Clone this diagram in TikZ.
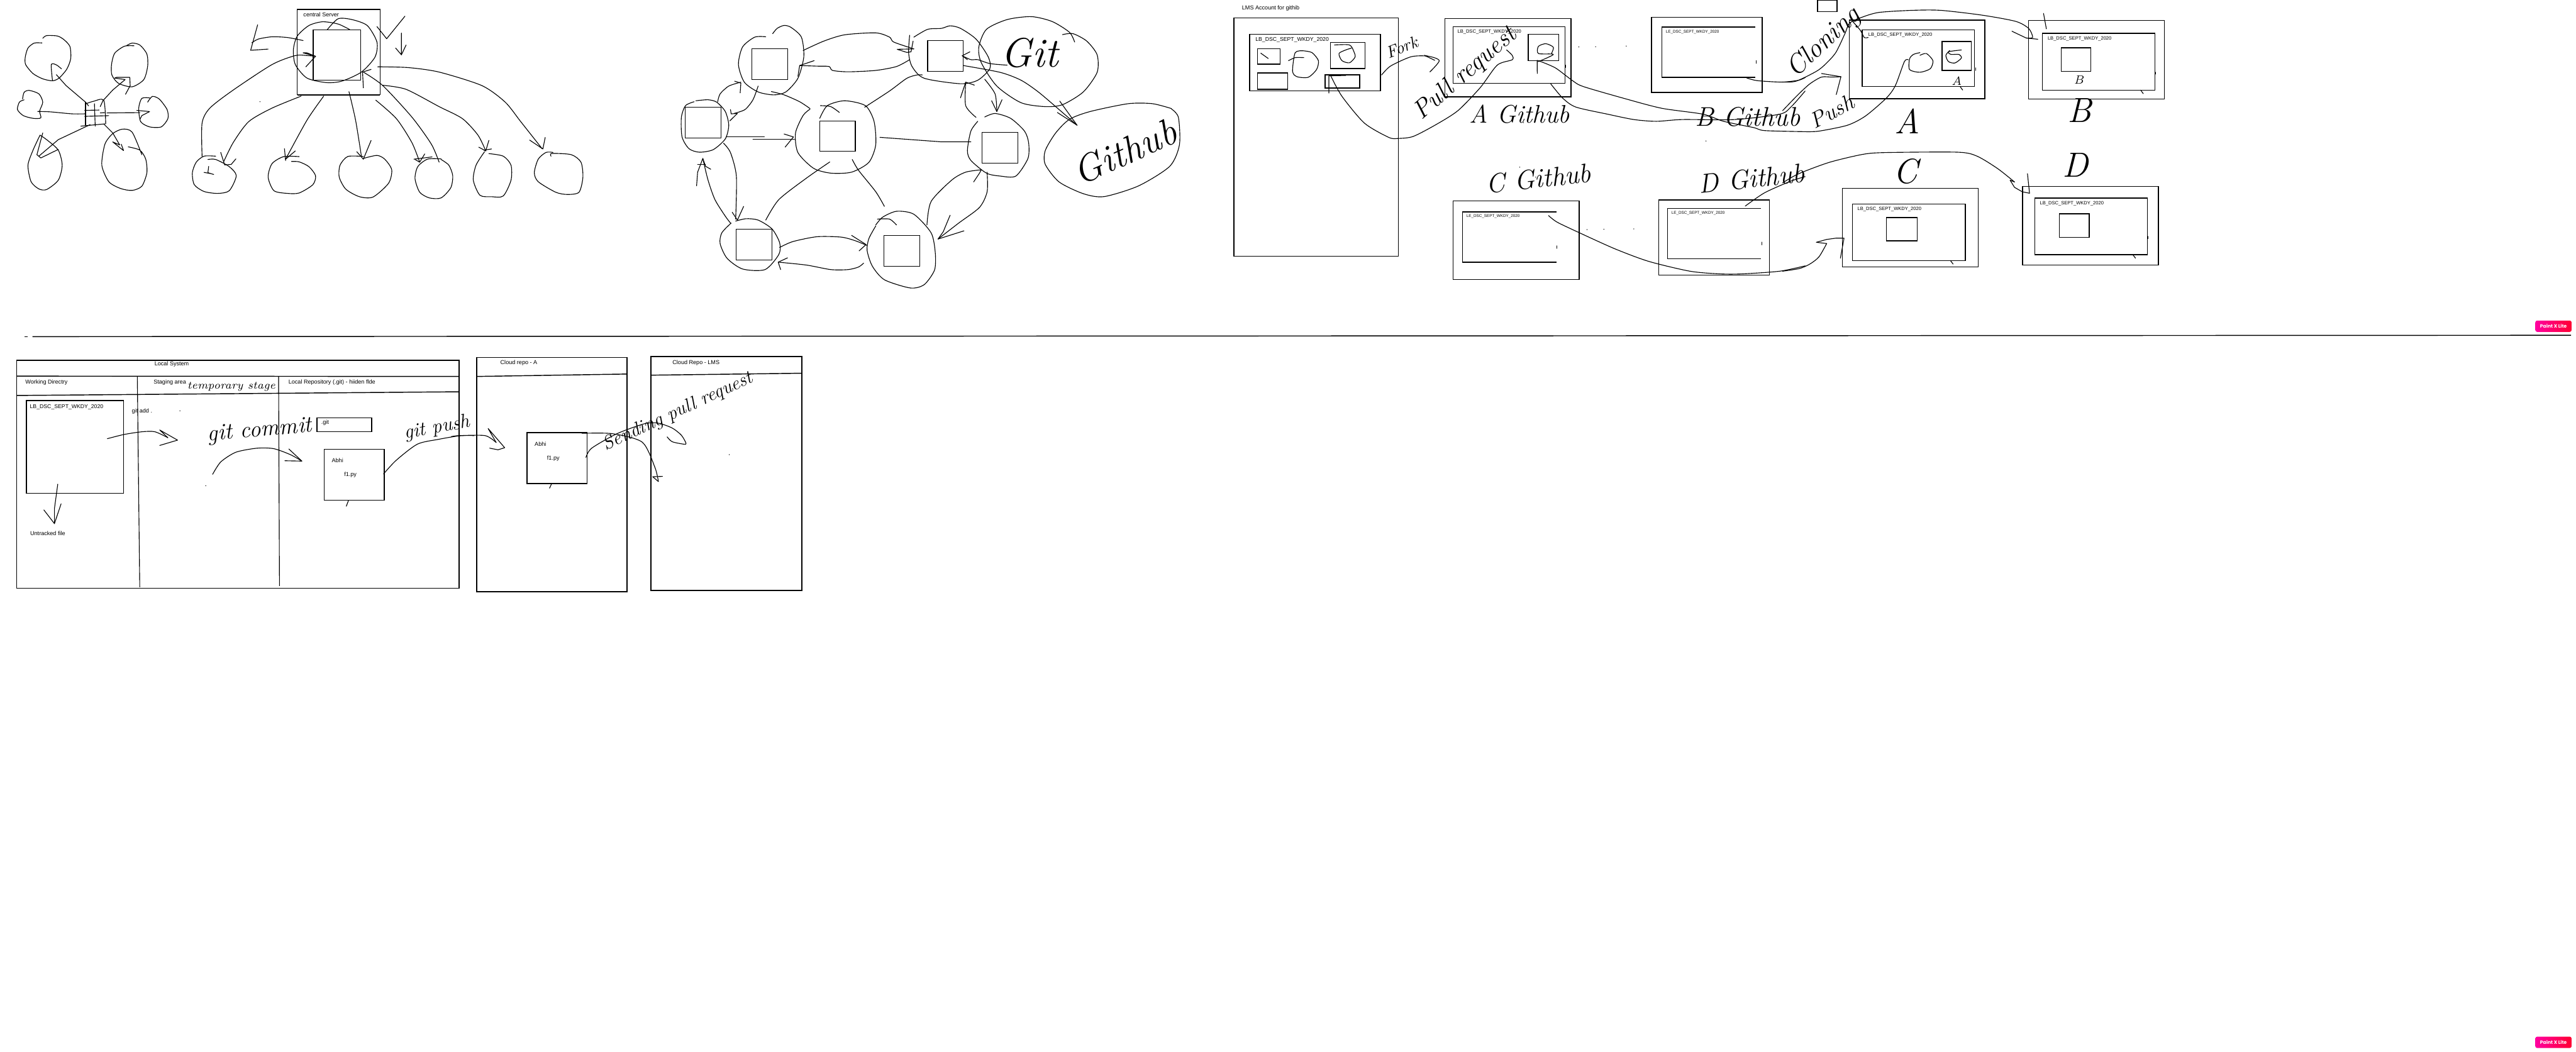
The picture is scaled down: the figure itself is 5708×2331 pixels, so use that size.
\documentclass[tikz,border=0pt]{standalone}
\usepackage{fontspec}
\setmainfont{Liberation Sans}
\newfontfamily\handfont{Latin Modern Roman}
\newfontfamily\badgefont{Poppins}
\definecolor{badgeL}{RGB}{255,0,160}
\definecolor{badgeR}{RGB}{255,0,50}
\newcommand{\hw}[1]{\fontsize{#1}{#1}\selectfont\handfont\itshape}
\newcommand{\ink}[1]{\draw[inkline] plot[smooth,tension=0.45] coordinates {#1};}
\newcommand{\pen}[1]{\draw[inkline] plot coordinates {#1};}
\newcommand{\speck}[1]{\fill #1 circle[radius=0.3pt];}
\tikzset{
  inkline/.style={line width=0.45pt,line join=round,line cap=round,black},
  boxline/.style={line width=0.57pt,black},
  thinbox/.style={line width=0.45pt,black},
  lbl/.style={font=\fontsize{3.6}{4.3}\selectfont,inner sep=0,anchor=west,text=black},
  lblb/.style={font=\fontsize{3.45}{4.1}\selectfont,inner sep=0,anchor=west,text=black},
  lblc/.style={font=\fontsize{3.0}{3.6}\selectfont,inner sep=0,anchor=west,text=black},
  lbld/.style={font=\fontsize{2.5}{3}\selectfont,inner sep=0,anchor=west,text=black},
  hand/.style={inner sep=0,text=black},
  badge/.style={rounded corners=1.1pt,left color=badgeL,right color=badgeR,minimum width=22.8pt,minimum height=7.1pt,inner sep=0,text=white,font=\fontsize{3}{3.6}\selectfont\badgefont\bfseries},
  zone a/.style={shift={(0,0)},x=0.00861cm,y=-0.003333cm},
  zone b/.style={shift={(1450,0)},x=0.007653cm,y=-0.004337cm},
  zone c/.style={shift={(2700,0)},x=0.008291cm,y=-0.003954cm},
  zone d/.style={shift={(3950,0)},x=0.00574cm,y=-0.003954cm},
  zone e/.style={shift={(0,770)},x=0.006696cm,y=-0.003571cm},
  zone f/.style={shift={(1000,770)},x=0.005102cm,y=-0.003571cm},
}
\begin{document}
\begin{tikzpicture}[x=0.01cm,y=-0.01cm]
\useasboundingbox (0,0) rectangle (5708,2331);
\fill[white] (0,0) rectangle (5708,2331);

% ---------- separator and badges
\coordinate (sepmarkL) at (55,746);
\coordinate (sepmarkR) at (62,746);
\coordinate (sepL) at (72,746);
\coordinate (sepR) at (5697,743);
\draw[boxline] (sepmarkL) -- (sepmarkR);
\draw[boxline] (sepL) -- (sepR);
\node[badge] (badgeTop) at (5658,723) {Paint X Lite};
\node[badge] (badgeBottom) at (5658,2310) {Paint X Lite};

% ---------- zone A: star and central server
\begin{scope}[zone a]
\ink{(108,286)(88,287)(72,320)(65,380)(66,430)(85,490)(110,525)(135,538)(152,520)(172,460)(182,390)(180,310)(165,265)(148,240)(120,237)(110,255)}
\ink{(135,535)(132,430)(145,432)(158,458)}
\pen{(145,497)(170,570)(220,680)(228,705)}
\ink{(345,305)(320,308)(295,355)(287,430)(288,500)(305,555)(340,578)(370,530)(380,440)(378,360)(360,300)(340,287)(325,305)}
\pen{(323,628)(335,570)(334,515)(300,515)(295,520)(322,530)(290,600)(265,670)(258,710)}
\pen{(220,680)(220,835)}
\ink{(222,690)(240,675)(267,668)(272,825)}
\pen{(218,735)(255,733)}
\pen{(218,775)(280,770)}
\pen{(258,752)(270,750)}
\pen{(208,840)(270,825)}
\pen{(243,690)(245,840)}
\ink{(62,665)(50,680)(45,730)(60,770)(85,788)(105,785)(102,740)(110,680)(100,625)(75,602)(62,615)(58,660)}
\ink{(97,742)(130,745)(185,758)(220,758)}
\ink{(385,652)(365,655)(357,720)(362,810)(385,845)(415,845)(432,790)(430,730)(410,660)(392,642)(380,680)}
\pen{(275,752)(360,750)}
\pen{(352,735)(385,743)(365,770)(360,795)}
\ink{(103,900)(85,1000)(72,1100)(80,1210)(100,1258)(120,1262)(150,1200)(160,1100)(150,1000)(120,930)(103,900)}
\pen{(232,830)(150,930)(100,1040)}
\pen{(110,885)(95,1030)(105,1052)(150,995)}
\ink{(330,978)(360,1000)(375,1060)(378,1150)(365,1240)(340,1268)(310,1255)(280,1210)(262,1100)(270,960)(290,890)(315,860)(340,880)(365,1030)}
\pen{(268,828)(290,885)(308,965)(290,945)(318,1003)(312,960)}

\draw[thinbox] (765,62) rectangle (978,632);
\draw[boxline] (765,62) -- (978,62) (765,632) -- (978,632);
\draw[thinbox] (806,200) rectangle (928,534);
\draw[boxline] (806,200) -- (928,200) (806,534) -- (928,534);
\node[lbl] (centralLabel) at (780,96) {central Server};
\ink{(900,197)(870,160)(830,145)(795,170)(765,240)(755,330)(760,430)(790,520)(840,550)(880,540)(930,480)(965,380)(970,280)(945,170)(905,130)(870,125)(842,198)}
\ink{(780,270)(740,250)(700,245)(665,260)(648,285)}
\pen{(663,165)(645,335)(690,327)}
\pen{(970,177)(995,258)(1042,108)}
\pen{(1033,220)(1033,365)(1018,320)}
\pen{(1033,365)(1045,300)}
\ink{(520,1040)(520,820)(540,720)(600,600)(700,430)(760,370)(790,370)(812,375)}
\pen{(812,375)(790,352)(780,352)(812,375)(787,445)}
\ink{(775,640)(700,720)(640,810)(600,950)(575,1080)}
\pen{(568,1015)(578,1098)(595,1095)(607,1058)}
\ink{(833,640)(790,800)(735,1060)}
\pen{(732,990)(735,1070)}
\pen{(760,1005)(735,1060)}
\ink{(898,610)(915,800)(930,1040)}
\pen{(955,935)(935,1060)}
\pen{(918,1010)(935,1060)}
\ink{(967,667)(1020,790)(1060,950)(1080,1080)}
\pen{(1093,1025)(1080,1080)(1068,1062)}
\ink{(935,480)(985,570)(1060,780)(1110,960)(1130,1080)}
\pen{(935,585)(933,480)(955,462)}
\ink{(985,568)(1045,595)(1130,710)(1190,790)(1230,900)(1250,1005)}
\pen{(1258,935)(1250,1005)(1232,980)}
\pen{(1245,1000)(1265,992)}
\ink{(972,445)(1050,450)(1130,480)(1240,570)(1300,680)(1340,810)(1395,990)}
\pen{(1403,915)(1397,992)(1363,933)}
\ink{(555,1040)(525,1040)(505,1080)(495,1150)(500,1230)(525,1275)(560,1288)(590,1270)(608,1170)(590,1110)(555,1062)(535,1062)}
\pen{(537,1108)(535,1150)(550,1162)}
\pen{(525,1148)(540,1155)}
\ink{(770,1043)(730,1043)(700,1090)(690,1180)(705,1270)(740,1288)(770,1285)(805,1230)(812,1170)(795,1110)(770,1078)(750,1075)}
\ink{(935,1042)(895,1042)(875,1100)(873,1180)(890,1260)(925,1310)(960,1312)(1000,1220)(1008,1130)(990,1060)(970,1035)(935,1055)}
\pen{(1112,1045)(1065,1060)}
\ink{(1135,1058)(1100,1060)(1075,1110)(1068,1190)(1080,1280)(1105,1318)(1135,1318)(1160,1250)(1165,1170)(1155,1100)(1135,1062)}
\ink{(1247,1010)(1225,1100)(1218,1200)(1235,1300)(1265,1310)(1295,1305)(1315,1200)(1315,1100)(1295,1040)(1258,1023)}
\ink{(1423,1015)(1405,1015)(1385,1060)(1375,1150)(1385,1210)(1430,1280)(1460,1295)(1490,1280)(1500,1180)(1495,1080)(1470,1030)(1420,1022)(1418,1040)}
\speck{(669,677)}
\end{scope}

% ---------- zone B: distributed peers
\begin{scope}[zone b]
\foreach \a/\b/\c/\d in {282/250/385/407,89/549/192/706,478/618/581/774,790/208/892/365,947/677/1051/833,237/1172/340/1330,664/1204/768/1362}{
  \draw[thinbox] (\a,\b) rectangle (\c,\d);
}
\ink{(322,188)(290,190)(255,240)(243,330)(260,420)(300,470)(345,485)(380,470)(415,400)(432,290)(425,190)(395,140)(375,130)(355,145)(342,172)}
\ink{(120,515)(155,510)(180,522)(205,570)(215,640)(205,710)(170,765)(130,778)(100,760)(80,700)(78,600)(90,540)(115,520)}
\ink{(450,558)(430,590)(408,680)(415,780)(460,860)(510,885)(570,880)(620,830)(640,740)(635,620)(610,540)(550,515)(500,540)(478,605)}
\ink{(535,575)(510,545)(480,540)}
\ink{(738,180)(735,270)(745,340)(780,400)(885,428)(935,410)(970,350)(965,290)(930,200)(885,145)(855,132)(830,145)(790,150)(750,190)}
\ink{(955,598)(985,580)(1030,605)(1070,670)(1082,730)(1080,810)(1045,900)(1000,900)(960,885)(915,820)(905,770)(915,670)(935,620)}
\ink{(222,1140)(195,1190)(190,1245)(210,1320)(255,1375)(320,1378)(360,1300)(362,1240)(340,1170)(300,1125)(265,1118)(235,1130)}
\ink{(640,1155)(620,1220)(615,1280)(630,1360)(665,1430)(740,1472)(780,1455)(810,1380)(812,1290)(800,1190)(750,1095)(700,1080)(660,1110)(640,1150)}
\ink{(645,1120)(680,1120)(700,1150)}
\ink{(1180,177)(1210,172)(1250,210)(1280,280)(1280,370)(1240,470)(1180,535)(1130,545)(1060,525)(990,440)(945,320)(938,240)(960,150)(1020,100)(1090,85)(1150,110)(1200,165)(1215,215)}
\ink{(1495,557)(1515,600)(1518,740)(1490,850)(1400,950)(1300,1005)(1240,990)(1170,930)(1130,840)(1130,770)(1160,680)(1200,610)(1260,570)(1370,530)(1440,530)(1495,555)}
\ink{(430,258)(490,210)(550,178)(640,168)(680,190)(692,215)(750,250)}
\pen{(750,250)(702,252)(730,268)(742,265)(748,210)}
\ink{(738,305)(700,340)(640,360)(560,367)(515,360)(505,340)(470,338)(420,335)}
\pen{(415,390)(420,335)(462,310)}
\ink{(183,520)(190,480)(215,440)(250,420)}
\pen{(232,415)(250,425)(248,475)}
\ink{(300,440)(285,510)(262,560)(230,580)}
\pen{(220,560)(222,582)(240,580)(218,618)}
\ink{(338,468)(375,485)(420,520)(450,555)}
\ink{(608,548)(680,465)(730,400)(760,383)(775,383)}
\pen{(208,700)(318,700)}
\pen{(285,711)(405,711)}
\pen{(375,685)(402,700)(378,752)}
\pen{(652,702)(830,725)(915,725)}
\ink{(200,732)(220,780)(237,900)(235,1120)}
\pen{(258,1055)(240,1125)(225,1085)}
\ink{(220,1140)(205,1105)(175,1020)(155,920)(140,810)}
\pen{(122,950)(125,880)(140,810)(148,850)(163,865)}
\pen{(125,840)(148,840)}
\ink{(507,828)(440,910)(360,1020)(322,1125)}
\ink{(572,815)(590,870)(640,980)(665,1055)}
\ink{(788,1150)(800,1030)(860,920)(900,880)(945,868)}
\pen{(945,868)(940,885)(923,930)}
\ink{(962,880)(962,980)(940,1060)(880,1140)(820,1222)}
\pen{(895,1180)(820,1222)(835,1185)(855,1100)}
\ink{(362,1265)(400,1235)(470,1210)(540,1212)(580,1230)(615,1255)}
\pen{(570,1203)(612,1250)(592,1282)}
\ink{(605,1345)(590,1365)(560,1378)(510,1378)(440,1355)(358,1340)}
\pen{(365,1378)(358,1340)(385,1318)}
\ink{(1020,333)(970,325)(935,305)(915,305)(890,285)}
\pen{(912,265)(890,285)(905,305)}
\ink{(893,335)(1000,370)(1060,410)(1110,470)(1170,560)(1222,640)}
\pen{(1165,575)(1222,640)(1172,517)}
\ink{(930,600)(900,540)(900,420)}
\pen{(885,500)(900,420)(925,435)}
\ink{(955,405)(985,480)(990,570)}
\pen{(975,515)(990,570)(1005,510)}
\node[hand,font=\hw{26}] (gitWord) at (1085,270) {Git};
\node[hand,font=\hw{24},rotate=24] (githubWord) at (1360,775) {Github};
\end{scope}

% ---------- zone C: LMS account and forks
\begin{scope}[zone c]
\node[lbl] (lmsTitle) at (62,47) {LMS Account for githib};
\draw[boxline] (41,101) rectangle (481,1436);
\draw[boxline] (83,192) rectangle (433,510);
\node[lblb] (lmsRepo) at (98,222) {LB\_DSC\_SEPT\_WKDY\_2020};
\draw[boxline] (104,273) rectangle (165,360);
\pen{(113,298)(133,328)}
\draw[boxline] (299,238) rectangle (392,384);
\ink{(310,252)(350,252)(362,290)(365,320)(350,352)(330,340)(322,300)(340,280)(355,270)}
\ink{(187,340)(205,323)(228,323)}
\ink{(228,285)(205,295)(198,400)(210,430)(240,433)(262,390)(267,340)(250,295)(228,285)}
\draw[boxline] (104,409) rectangle (185,500);
\draw[boxline] (285,420) rectangle (377,493);
\pen{(295,522)(295,425)(340,423)}
\ink{(300,425)(330,540)(390,690)(455,770)(480,776)(520,765)(580,700)(640,620)(700,490)(745,365)(785,335)(785,310)(770,280)}
\ink{(436,420)(460,370)(515,318)(560,315)(590,340)(565,403)}
\pen{(560,315)(550,310)(578,338)}
\node[hand,font=\hw{10.5},rotate=22] (forkWord) at (490,265) {Fork};
\node[hand,font=\hw{16},rotate=41] (pullWord) at (660,415) {Pull request};

\draw[boxline] (605,104) rectangle (942,543);
\draw[boxline] (627,150) rectangle (926,467);
\node[lblc] (repoA) at (638,178) {LB\_DSC\_SEPT\_WKDY\_2020};
\draw[boxline] (828,192) rectangle (909,341);
\pen{(928,365)(928,378)}
\ink{(852,412)(852,340)(855,345)(895,305)(855,300)(855,260)(875,245)(895,265)(890,300)}
\ink{(855,340)(900,380)(945,450)(975,485)(1090,555)(1185,607)(1295,640)(1350,680)(1430,715)(1460,732)(1568,738)}
\ink{(888,470)(920,550)(955,600)(1040,640)(1110,670)(1170,680)(1240,670)(1380,670)(1500,640)(1530,600)(1568,510)}
\node[hand,font=\hw{16}] (aGithub) at (805,640) {A Github};
\node[hand,font=\hw{17}] (bGithub) at (1415,655) {B Github};

\draw[boxline] (1157,97) rectangle (1453,518);
\draw[boxline] (1435,151) -- (1185,151) -- (1185,433) -- (1435,433);
\node[lbld] (repoB) at (1195,178) {LE\_DSC\_SEPT\_WKDY\_2020};
\pen{(1437,340)(1437,355)}
\ink{(1412,437)(1440,452)(1505,460)(1550,450)(1568,435)}

\draw[boxline] (627,1127) rectangle (964,1566);
\draw[boxline] (903,1188) -- (652,1188) -- (652,1470) -- (903,1470);
\node[lbld] (repoC) at (662,1213) {LE\_DSC\_SEPT\_WKDY\_2020};
\pen{(905,1378)(905,1392)}
\draw[boxline] (1177,1120) rectangle (1473,1541);
\draw[boxline] (1450,1168) -- (1200,1168) -- (1200,1450) -- (1450,1450);
\node[lbld] (repoD) at (1210,1193) {LE\_DSC\_SEPT\_WKDY\_2020};
\pen{(1452,1357)(1452,1372)}
\ink{(882,1208)(905,1245)(965,1305)(1060,1395)(1150,1465)(1260,1520)(1340,1535)(1400,1535)(1500,1520)(1568,1490)}
\ink{(1408,1155)(1460,1080)(1530,1015)(1568,990)}
\node[hand,font=\hw{17},rotate=6] (cGithub) at (855,1000) {C Github};
\node[hand,font=\hw{17},rotate=6] (dGithub) at (1425,1000) {D Github};
\foreach \p in {(963,263),(1008,262),(1090,258),(1303,790),(985,1287),(1030,1285),(1110,1283),(805,937),(848,993),(815,687)}{\speck{\p}}
\end{scope}

% ---------- zone D: clones
\begin{scope}[zone d]
\draw[boxline] (135,0) rectangle (210,65);
\draw[boxline] (257,113) rectangle (780,553);
\draw[boxline] (307,167) rectangle (741,485);
\node[lblc] (cloneA) at (330,197) {LB\_DSC\_SEPT\_WKDY\_2020};
\draw[boxline] (615,232) rectangle (728,395);
\ink{(645,283)(630,310)(640,345)(665,353)(690,325)(680,305)(650,305)(640,290)(690,280)}
\ink{(530,310)(555,300)(580,340)(570,385)(530,405)(490,390)(490,330)(505,305)(530,295)}
\pen{(745,380)(745,395)}
\pen{(685,485)(695,505)}
\node[hand,font=\hw{7.5}] (smallA) at (672,455) {A};
\draw[boxline] (949,115) rectangle (1473,555);
\draw[boxline] (1003,187) rectangle (1437,505);
\node[lblc] (cloneB) at (1022,217) {LB\_DSC\_SEPT\_WKDY\_2020};
\draw[boxline] (1076,268) rectangle (1190,400);
\pen{(1440,405)(1440,415)}
\pen{(1382,505)(1392,525)}
\pen{(1007,75)(1018,162)}
\node[hand,font=\hw{7.5}] (smallB) at (1143,448) {B};
\draw[boxline] (231,1055) rectangle (755,1496);
\draw[boxline] (270,1143) rectangle (705,1461);
\node[lblc] (cloneC) at (288,1172) {LB\_DSC\_SEPT\_WKDY\_2020};
\draw[boxline] (401,1219) rectangle (519,1350);
\pen{(707,1358)(707,1372)}
\pen{(648,1461)(658,1480)}
\draw[boxline] (926,1045) rectangle (1450,1486);
\draw[boxline] (974,1110) rectangle (1408,1428);
\node[lblc] (cloneD) at (992,1140) {LB\_DSC\_SEPT\_WKDY\_2020};
\draw[boxline] (1068,1198) rectangle (1183,1330);
\pen{(1410,1325)(1410,1338)}
\pen{(1352,1428)(1362,1447)}
% long strokes continued from zone C
\ink{(87,738)(140,735)(250,702)(320,650)(400,550)(435,480)(470,345)(485,335)}
\ink{(0,620)(60,530)(105,470)(150,432)(190,432)(225,430)}
\pen{(150,412)(225,430)(207,530)}
\ink{(0,460)(52,455)(130,400)(165,360)(205,295)(240,190)(258,130)(300,100)(370,70)(500,58)(610,58)(770,85)(900,120)(950,160)(965,210)(940,213)}
\pen{(885,175)(940,213)(985,220)}
\ink{(0,1520)(65,1505)(105,1480)(140,1440)(170,1365)}
\pen{(170,1365)(130,1358)(170,1342)(205,1335)(237,1335)(223,1447)}
\ink{(0,1025)(60,975)(180,910)(310,865)(400,855)(675,853)(750,875)(830,945)(895,1020)}
\pen{(895,1020)(878,1010)(895,1050)(925,1075)(953,1083)(945,973)}
\ink{(270,120)(300,170)(315,210)(330,210)}
\node[hand,font=\hw{17},rotate=43] (cloneWord) at (160,240) {Cloning};
\node[hand,font=\hw{14},rotate=28] (pushWord) at (190,625) {Push};
\node[hand,font=\hw{22}] (bigA) at (480,680) {A};
\node[hand,font=\hw{22}] (bigB) at (1145,620) {B};
\node[hand,font=\hw{22}] (bigC) at (475,960) {C};
\node[hand,font=\hw{22}] (bigD) at (1130,925) {D};
\end{scope}

% ---------- zone E: local system
\begin{scope}[zone e]
\draw[boxline] (55,80) rectangle (1518,1495);
\draw[boxline] (55,178) -- (1518,180);
\draw[boxline] (55,298) -- (1518,275);
\draw[thinbox] (454,180) -- (462,1487);
\draw[thinbox] (921,180) -- (924,1480);
\node[lbl] (localTitle) at (510,103) {Local System};
\node[lbl] (workTitle) at (83,217) {Working Directry};
\node[lbl] (stageTitle) at (507,218) {Staging area};
\node[lbl] (repoTitle) at (953,218) {Local Repository (.git) - hiiden flde};
\draw[boxline] (87,330) rectangle (408,904);
\node[lblb] (workRepo) at (98,369) {LB\_DSC\_SEPT\_WKDY\_2020};
\node[lbl] (gitAdd) at (435,397) {git add .};
\node[lbl] (untracked) at (99,1155) {Untracked file};
\pen{(191,848)(180,1000)(180,1093)(145,1008)}
\pen{(180,1093)(202,970)}
\ink{(355,566)(410,540)(470,523)(512,523)(555,560)}
\pen{(555,560)(528,512)(587,575)(528,608)}
\ink{(703,787)(730,710)(780,650)(850,625)(905,628)(960,665)(998,705)}
\pen{(955,630)(998,705)(942,703)}
\draw[boxline] (1048,436) rectangle (1229,523);
\node[lbl] (dotGit) at (1061,467) {.git};
\draw[boxline] (1072,632) rectangle (1270,948);
\node[lbl] (abhiL) at (1096,702) {Abhi};
\node[lbl] (fileL) at (1137,792) {f1.py};
\pen{(1152,950)(1145,985)}
\ink{(1268,785)(1310,700)(1380,600)(1450,570)(1520,548)(1568,547)}
\node[hand,font=\hw{6.8}] (tempWord) at (765,245) {temporary stage};
\node[hand,font=\hw{14.5},rotate=5] (commitWord) at (859,520) {git commit};
\node[hand,font=\hw{12.5},rotate=10] (pushCmd) at (1445,500) {git push};
\speck{(595,393)}
\speck{(680,858)}
\end{scope}

% ---------- zone F: cloud repositories
\begin{scope}[zone f]
\ink{(0,553)(35,547)(147,547)(195,590)}
\pen{(195,590)(160,503)(232,622)(203,635)(167,625)}
\draw[boxline] (110,62) rectangle (764,1515);
\draw[boxline] (110,180) -- (764,165);
\node[lbl] (cloudA) at (212,97) {Cloud repo - A};
\draw[boxline] (329,528) rectangle (590,845);
\node[lbl] (abhiC) at (361,598) {Abhi};
\node[lbl] (fileC) at (415,688) {f1.py};
\pen{(435,848)(427,873)}
\ink{(568,533)(700,535)(830,588)(885,745)(900,832)}
\pen{(900,832)(875,802)(918,800)}
\ink{(585,682)(610,625)(720,535)(840,473)(900,470)(960,500)(1000,545)(1020,595)(1010,600)(960,585)(938,555)}
\draw[boxline] (868,56) rectangle (1523,1508);
\draw[boxline] (868,172) -- (1523,160);
\node[lbl] (cloudLms) at (960,97) {Cloud Repo - LMS};
\node[hand,font=\hw{12},rotate=25] (sendWord) at (985,400) {Sending pull request};
\speck{(1208,665)}
\end{scope}
\end{tikzpicture}
\end{document}
